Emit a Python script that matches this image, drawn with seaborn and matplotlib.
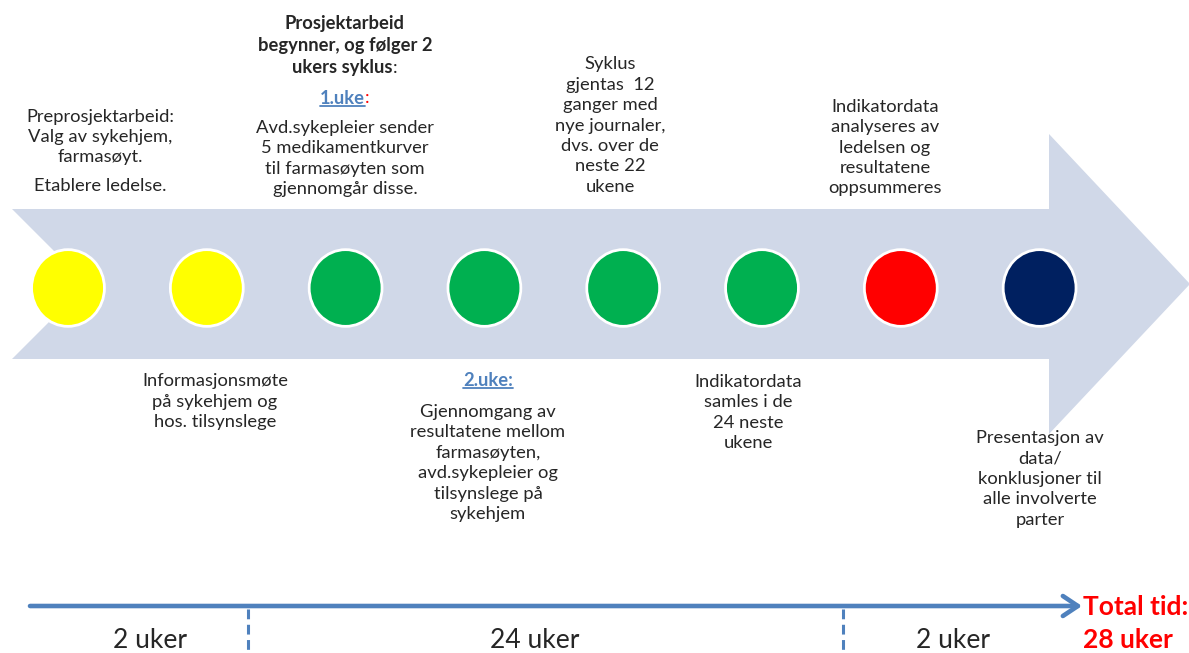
import numpy as np
import pandas as pd
import seaborn as sns
import matplotlib.pyplot as plt
from matplotlib.patches import Polygon
from matplotlib.path import Path
from matplotlib.markers import MarkerStyle
from matplotlib.transforms import Affine2D

# steps along the big arrow
step_colors = ["#FFFF00", "#FFFF00", "#00B050", "#00B050",
               "#00B050", "#00B050", "#FF0000", "#002060"]
steps = [str(i) for i in range(1, 9)]

top_texts = [
    "Preprosjektarbeid:\nValg av sykehjem,\nfarmasøyt.",
    "Avd.sykepleier sender\n5 medikamentkurver\ntil farmasøyten som\ngjennomgår disse.",
    "Syklus\ngjentas  12\nganger med\nnye journaler,\ndvs. over de\nneste 22\nukene",
    "Indikatordata\nanalyseres av\nledelsen og\nresultatene\noppsummeres",
]
bottom_texts = [
    "Informasjonsmøte\npå sykehjem og\nhos. tilsynslege",
    "Gjennomgang av\nresultatene mellom\nfarmasøyten,\navd.sykepleier og\ntilsynslege på\nsykehjem",
    "Indikatordata\nsamles i de\n24 neste\nukene",
    "Presentasjon av\ndata/\nkonklusjoner til\nalle involverte\nparter",
]

phase_labels = ["2 uker", "24 uker", "2 uker"]
phase_weeks = [2, 24, 2]

BLUE = "#4F81BD"
FS = 13.2

sns.set_theme(style="white")
plt.rcParams['font.family'] = ['Lato', 'DejaVu Sans']

fig = plt.figure(figsize=(11.89, 6.53), dpi=100)
ax = fig.add_axes([0, 0, 1, 1])

# big chevron arrow
arrow = [(12, 209), (1049, 209), (1049, 134), (1190, 284), (1049, 434),
         (1049, 359), (12, 359), (87, 284)]
ax.add_patch(Polygon(arrow, closed=True, facecolor="#D0D8E8",
                     edgecolor="none", zorder=1))

# the step dots
ell = Path.unit_circle().transformed(Affine2D().scale(0.95, 1.0))
dots = pd.DataFrame({"step": steps,
                     "x": 68 + 138.8 * np.arange(len(steps)),
                     "y": 288})
sns.scatterplot(data=dots, x="x", y="y", hue="step", palette=step_colors,
                marker=MarkerStyle(ell), s=3050, edgecolor="white",
                linewidth=2.0, legend=False, ax=ax, zorder=3)

ax.set_xlim(0, 1189)
ax.set_ylim(653, 0)
ax.axis("off")

renderer = fig.canvas.get_renderer()


def runs_line(x, y, runs, size=FS):
    objs = []
    for s, kw in runs:
        objs.append(ax.text(0, y, s, fontsize=size, ha="left", va="center", **kw))
    widths = [t.get_window_extent(renderer).width for t in objs]
    x0 = x - sum(widths) / 2
    for t, w in zip(objs, widths):
        t.set_x(x0)
        x0 += w
    return objs


def underline(t, color):
    bb = t.get_window_extent(renderer)
    yy = 653 - bb.y0 - 1
    ax.plot([bb.x0, bb.x1], [yy, yy], color=color, lw=1.3)


def block(x, y, s, **kw):
    ax.text(x, y, s, fontsize=FS, ha="center", va="center",
            linespacing=1.34, **kw)


# top texts
block(100, 137, top_texts[0])
block(100, 186, "Etablere ledelse.")
block(345, 34.5, "Prosjektarbeid\nbegynner, og følger 2", fontweight="bold")
runs_line(345, 68, [("ukers syklus", dict(fontweight="bold")), (":", {})])
r = runs_line(345, 98, [("1.uke", dict(fontweight="bold", color=BLUE)),
                        (":", dict(color="red"))])
underline(r[0], BLUE)
block(345, 158.5, top_texts[1])
block(610, 125.5, top_texts[2])
block(885, 147.5, top_texts[3])

# bottom texts
block(215, 401.5, bottom_texts[0])
r = runs_line(488, 380, [("2.uke:", dict(fontweight="bold", color=BLUE))])
underline(r[0], BLUE)
block(488, 463, bottom_texts[1])
block(748, 412.5, bottom_texts[2])
block(1040, 479, bottom_texts[3])

# time line
ax.annotate("", xy=(1082, 606), xytext=(30, 606),
            arrowprops=dict(arrowstyle="->, head_length=0.9, head_width=0.6",
                            color=BLUE, lw=3.3, shrinkA=0, shrinkB=0))
for xb in [248, 843]:
    ax.plot([xb, xb], [609, 653], color=BLUE, lw=2.2, ls=(0, (3.2, 1.8)))

for xc, lab in zip([150, 535, 953], phase_labels):
    ax.text(xc, 640, lab, fontsize=19, ha="center", va="center")

ax.text(1083, 607, "Total tid:", fontsize=19, fontweight="bold",
        color="red", ha="left", va="center")
ax.text(1083, 640, f"{sum(phase_weeks)} uker", fontsize=19, fontweight="bold",
        color="red", ha="left", va="center")

fig.savefig("out.png", dpi=100)
